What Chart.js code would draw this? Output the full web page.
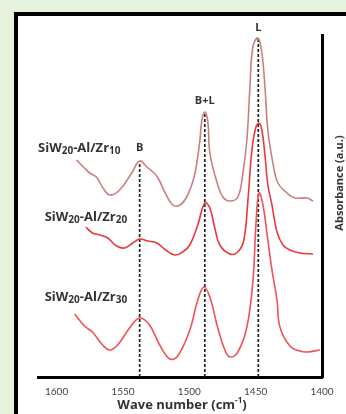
<!DOCTYPE html>
<html>
<head>
<meta charset="utf-8">
<script src="https://cdn.jsdelivr.net/npm/chart.js@4.4.1/dist/chart.umd.min.js"></script>
<style>
    body { margin: 0; background: #e6f2dc; width: 346px; height: 414px; overflow: hidden; position: relative; }
    #frame { position: absolute; left: 14px; top: 12px; width: 400px; height: 460px; border: 4px solid #000; background: #fff; }
    #wrap { position: absolute; left: 0; top: 0; width: 346px; height: 414px; }
</style>
</head>
<body>
<div id="frame"></div>
<div id="wrap"><canvas id="myChart" width="346" height="414"></canvas></div>
<script>
// spectra (wave number in cm-1, absorbance in a.u.)
var zr10Wave = [1585, 1579, 1575, 1570, 1566, 1560, 1552.5, 1543.4, 1537.4, 1532, 1524.5, 1518.5, 1512.5, 1507, 1502, 1497, 1494.3, 1492, 1490.5, 1488.3, 1486, 1484.5, 1479, 1474.7, 1469.4, 1463.4, 1459.6, 1456.6, 1454.3, 1452.1, 1448.3, 1445.3, 1443, 1440.8, 1437, 1433.2, 1426.4, 1420.4, 1411.3, 1406.8];
var zr10Abs = [217, 209, 204, 200, 191, 182, 187, 204, 216, 210, 201, 185, 172, 172, 180, 197, 214, 237, 257, 265, 255, 224, 194, 180, 176, 180, 204, 237, 290, 330, 339, 324, 290, 247, 214, 194, 184, 179, 179, 176];

var zr20Wave = [1578, 1573, 1567.5, 1561.5, 1554.7, 1548.7, 1542.6, 1537.4, 1531.3, 1524.5, 1517.7, 1510.9, 1505, 1499.6, 1493.6, 1488.3, 1484.5, 1480.8, 1477, 1469.4, 1463.4, 1458.9, 1455.8, 1452.8, 1449.8, 1447.5, 1445.3, 1443, 1440.8, 1437.7, 1433.9, 1429.4, 1424.2, 1416.6, 1406.8];
var zr20Abs = [150, 144, 142, 139, 131, 129, 134, 138, 136, 134, 127, 122, 125, 132, 152, 174, 169, 149, 132, 123, 125, 137, 177, 227, 250, 254, 247, 222, 192, 172, 145, 132, 127, 124, 123];

var zr30Wave = [1586.4, 1579, 1573, 1565.3, 1560, 1554, 1545, 1537.4, 1530, 1522.3, 1514.7, 1508.7, 1499.6, 1493.6, 1489, 1484.5, 1478.5, 1473.2, 1469.4, 1463.4, 1456.6, 1452, 1449.8, 1447.5, 1444.5, 1440.8, 1437.7, 1433.9, 1431.7, 1424.2, 1416.6, 1411.3, 1401.5];
var zr30Abs = [63, 51, 45, 32, 27, 32, 49, 59, 52, 32, 18, 21, 47, 77, 90, 80, 49, 27, 20, 25, 50, 97, 152, 184, 172, 137, 107, 77, 50, 31, 26, 25, 27];

var peakNames = ['B', 'B+L', 'L'];
var peakWave = [1537.4, 1488.3, 1448];
var peakTop = [216, 265, 339];

var sampleLoads = ['10', '20', '30'];
var xTicks = [1600, 1550, 1500, 1450, 1400];

function toPoints(xs, ys) {
    var pts = [];
    for (var i = 0; i < xs.length; i++) {
        pts.push({x: xs[i], y: ys[i]});
    }
    return pts;
}

var datasets = [];
var curveColors = ['#c98080', '#e8393c', '#ef5258'];
var curves = [[zr10Wave, zr10Abs], [zr20Wave, zr20Abs], [zr30Wave, zr30Abs]];
for (var i = 0; i < curves.length; i++) {
    datasets.push({
        data: toPoints(curves[i][0], curves[i][1]),
        borderColor: curveColors[i],
        borderWidth: 1.6,
        pointRadius: 0,
        showLine: true,
        tension: 0.4,
        clip: false
    });
}
// dashed markers down from each peak
for (var i = 0; i < peakWave.length; i++) {
    datasets.push({
        data: [{x: peakWave[i], y: 0}, {x: peakWave[i], y: peakTop[i]}],
        borderColor: '#222',
        borderWidth: 1.7,
        borderDash: [3, 2],
        pointRadius: 0,
        showLine: true
    });
}

// draws text with subscript parts
function drawRich(ctx, parts, x, y) {
    var cx = x;
    parts.forEach(function(p) {
        ctx.font = p[1] ? 'bold 10px "Open Sans"' : 'bold 13px "Open Sans"';
        ctx.fillText(p[0], cx, y + (p[1] ? 3 : 0));
        cx += ctx.measureText(p[0]).width;
    });
}

var labelPlugin = {
    id: 'labels',
    afterDraw: function(chart) {
        var ctx = chart.ctx;
        var xs = chart.scales.x, ys = chart.scales.y;
        ctx.save();
        ctx.fillStyle = '#333';
        ctx.textBaseline = 'middle';
        ctx.textAlign = 'center';
        ctx.font = 'bold 11px "Open Sans"';
        var peakLabelAbs = [229, 276, 349];
        for (var i = 0; i < peakNames.length; i++) {
            ctx.fillText(peakNames[i], xs.getPixelForValue(peakWave[i]), ys.getPixelForValue(peakLabelAbs[i]));
        }
        ctx.textAlign = 'left';
        var sampleLeft = [1614, 1609, 1609];
        var sampleAbs = [229, 160, 80];
        for (var i = 0; i < sampleLoads.length; i++) {
            drawRich(ctx, [['SiW', false], ['20', true], ['-Al/Zr', false], [sampleLoads[i], true]],
                xs.getPixelForValue(sampleLeft[i]), ys.getPixelForValue(sampleAbs[i]));
        }
        // x title
        var tx = (xs.left + xs.right) / 2 + 2;
        ctx.font = 'bold 13px "Open Sans"';
        var w1 = ctx.measureText('Wave number (cm').width;
        ctx.font = 'bold 8px "Open Sans"';
        var w2 = ctx.measureText('-1').width;
        ctx.font = 'bold 13px "Open Sans"';
        var w3 = ctx.measureText(')').width;
        var sx = tx - (w1 + w2 + w3) / 2;
        ctx.fillText('Wave number (cm', sx, 405);
        ctx.font = 'bold 8px "Open Sans"';
        ctx.fillText('-1', sx + w1, 401);
        ctx.font = 'bold 13px "Open Sans"';
        ctx.fillText(')', sx + w1 + w2, 405);
        // y title, reads bottom to top
        ctx.translate(340, 183);
        ctx.rotate(-Math.PI / 2);
        ctx.textAlign = 'center';
        ctx.font = 'bold 11px "Open Sans"';
        ctx.fillText('Absorbance (a.u.)', 0, 0);
        ctx.restore();
    }
};

var ctx = document.getElementById('myChart').getContext('2d');
var myChart = new Chart(ctx, {
    type: 'scatter',
    data: {datasets: datasets},
    options: {
        responsive: false,
        animation: false,
        layout: {padding: {left: 38, right: 24, top: 35, bottom: 0}},
        plugins: {legend: {display: false}, tooltip: {enabled: false}},
        scales: {
            x: {
                type: 'linear',
                reverse: true,
                min: 1400,
                max: 1614,
                afterBuildTicks: function(scale) {
                    scale.ticks = xTicks.map(function(v) { return {value: v}; });
                },
                afterFit: function(scale) { scale.height = 37; },
                grid: {display: false},
                border: {display: true, width: 3, color: '#000'},
                ticks: {
                    padding: 1,
                    color: '#444',
                    font: {family: 'Lato', size: 10},
                    maxRotation: 0,
                    callback: function(v) { return String(v); }
                }
            },
            y: {
                position: 'right',
                min: 0,
                max: 342,
                afterFit: function(scale) { scale.width = 0; },
                grid: {display: false},
                border: {display: true, width: 3, color: '#000'},
                ticks: {display: false}
            }
        }
    },
    plugins: [labelPlugin]
});
</script>
</body>
</html>
